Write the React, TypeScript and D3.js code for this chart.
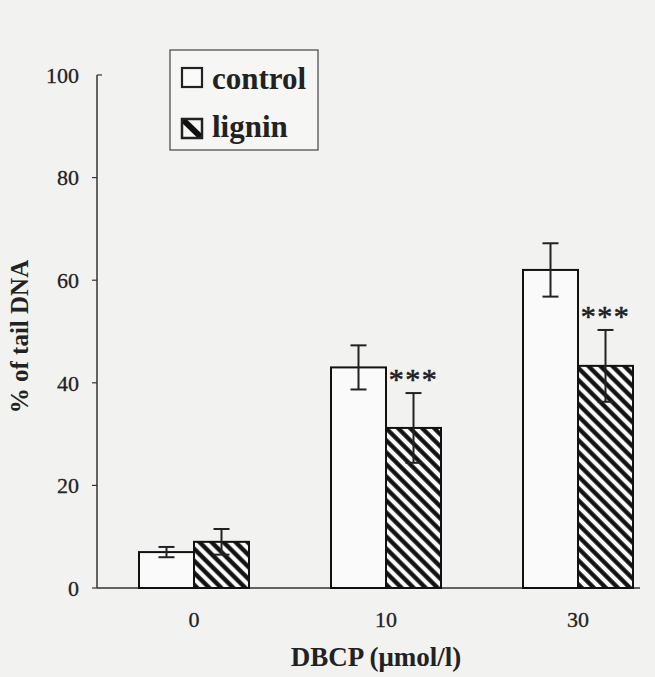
import React from 'react';
import * as d3 from 'd3';

// values
const doses = ['0', '10', '30'];
const series = ['control', 'lignin'];
const controlMean = [7.0, 43.0, 62.0];
const controlErr = [1.0, 4.3, 5.2];
const ligninMean = [9.0, 31.2, 43.3];
const ligninErr = [2.5, 6.8, 7.0];
const stars = ['', '***', '***'];
const yTicks = [0, 20, 40, 60, 80, 100];

const W = 655, H = 677;
const font = '"Liberation Serif", "Times New Roman", serif';

export default function App() {
  const y = d3.scaleLinear().domain([0, 100]).range([588, 75]);
  const x = d3.scaleBand().domain(doses).range([98, 674]);
  const sub = d3.scaleBand().domain(series).range([-55, 55]);
  const bw = sub.bandwidth();

  const rows = doses.map((d, i) => ({
    dose: d,
    vals: [
      { s: 'control', m: controlMean[i], e: controlErr[i] },
      { s: 'lignin', m: ligninMean[i], e: ligninErr[i] },
    ],
    star: stars[i],
  }));

  const cx = (d: string) => (x(d) as number) + x.bandwidth() / 2;

  return (
    <svg width={W} height={H} style={{ position: 'absolute', left: 0, top: 0, background: '#f2f2f1' }}>
      <defs>
        <pattern id="hatch" width="8.5" height="8.5" patternUnits="userSpaceOnUse" patternTransform="rotate(45)">
          <rect width="8.5" height="8.5" fill="#fafafa" />
          <line x1="0" y1="4.25" x2="8.5" y2="4.25" stroke="#111" strokeWidth="4.3" />
        </pattern>
        <clipPath id="legSw">
          <rect x={182} y={119} width={20} height={19} />
        </clipPath>
      </defs>

      {/* y axis */}
      <line x1={97} x2={97} y1={y(100)} y2={y(0)} stroke="#333" strokeWidth={1.5} />
      {yTicks.map(t => (
        <g key={t}>
          <line x1={97} x2={t === 100 ? 102 : 92} y1={y(t)} y2={y(t)} stroke="#333" strokeWidth={1.2} />
          <text x={79} y={y(t)} dy="0.35em" textAnchor="end" fontFamily={font} fontSize={22}
            fill="#222" stroke="#222" strokeWidth={0.3}>{t}</text>
        </g>
      ))}
      <text transform={`translate(28,${(y(0) + y(100)) / 2 + 5}) rotate(-90)`} textAnchor="middle"
        fontFamily={font} fontWeight="bold" fontSize={25} fill="#222">% of tail DNA</text>

      {/* x axis */}
      <line x1={97} x2={640} y1={y(0)} y2={y(0)} stroke="#333" strokeWidth={1.5} />
      {doses.map(d => (
        <text key={d} x={cx(d)} y={627} textAnchor="middle" fontFamily={font} fontSize={22}
          fill="#222" stroke="#222" strokeWidth={0.3}>{d}</text>
      ))}
      <text x={376} y={666} textAnchor="middle" fontFamily={font} fontWeight="bold" fontSize={27} fill="#222">DBCP (μmol/l)</text>

      {/* bars */}
      {rows.map(r => (
        <g key={r.dose}>
          {r.vals.map(v => {
            const bx = cx(r.dose) + (sub(v.s) as number);
            const mid = bx + bw / 2;
            return (
              <g key={v.s}>
                <rect x={bx} y={y(v.m)} width={bw} height={y(0) - y(v.m)}
                  fill={v.s === 'control' ? '#fafafa' : 'url(#hatch)'} stroke="#111" strokeWidth={2} />
                <line x1={mid} x2={mid} y1={y(v.m + v.e)} y2={y(v.m - v.e)} stroke="#222" strokeWidth={2} />
                <line x1={mid - 8} x2={mid + 8} y1={y(v.m + v.e)} y2={y(v.m + v.e)} stroke="#222" strokeWidth={2} />
                <line x1={mid - 8} x2={mid + 8} y1={y(v.m - v.e)} y2={y(v.m - v.e)} stroke="#222" strokeWidth={2} />
              </g>
            );
          })}
          {r.star && (
            <text x={cx(r.dose) + (sub('lignin') as number) + bw / 2}
              y={y(r.vals[1].m + r.vals[1].e) - 4} textAnchor="middle"
              fontFamily={font} fontSize={30} letterSpacing={1.5} fill="#222" stroke="#222" strokeWidth={0.6}>{r.star}</text>
          )}
        </g>
      ))}

      {/* legend */}
      <rect x={170} y={50} width={148} height={100} fill="#f6f6f5" stroke="#444" strokeWidth={1.2} />
      <rect x={182} y={68} width={20} height={19} fill="#fafafa" stroke="#222" strokeWidth={2.2} />
      <text x={212} y={89} fontFamily={font} fontWeight="bold" fontSize={31} fill="#222">control</text>
      <rect x={182} y={119} width={20} height={19} fill="#fafafa" />
      <line x1={180} y1={117} x2={204} y2={140} stroke="#111" strokeWidth={6} clipPath="url(#legSw)" />
      <rect x={182} y={119} width={20} height={19} fill="none" stroke="#222" strokeWidth={2.5} />
      <text x={212} y={137} fontFamily={font} fontWeight="bold" fontSize={31} fill="#222">lignin</text>
    </svg>
  );
}
